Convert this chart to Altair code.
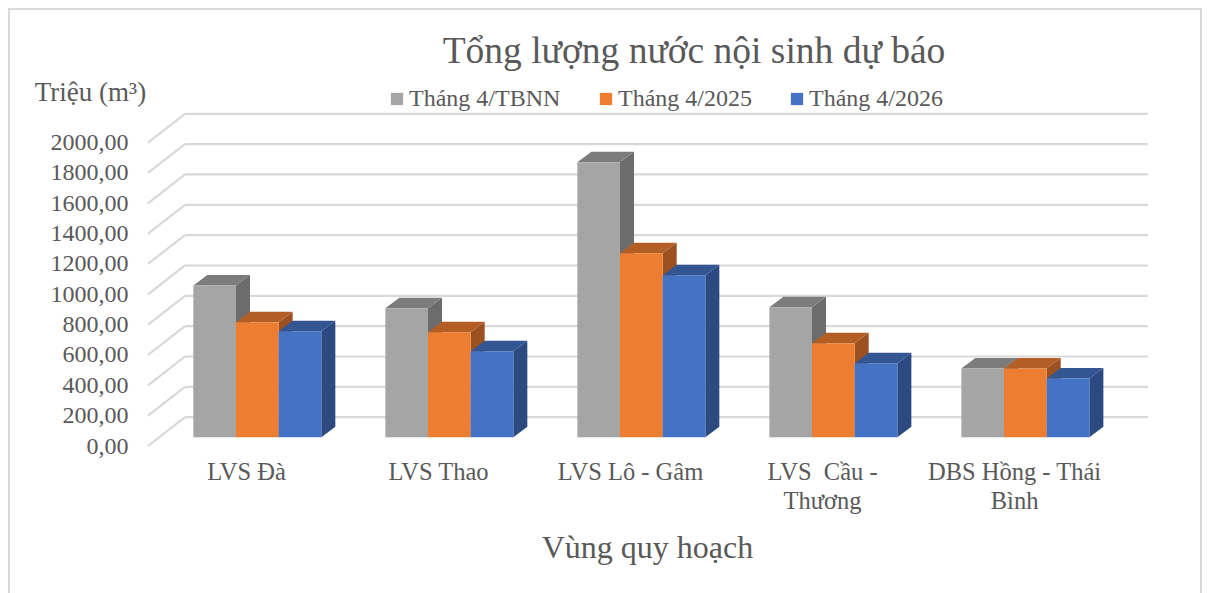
import altair as alt
import pandas as pd

regions = ["LVS Đà", "LVS Thao", "LVS Lô - Gâm", "LVS \u00a0Cầu -|Thương", "DBS Hồng - Thái|Bình"]
series = ["Tháng 4/TBNN", "Tháng 4/2025", "Tháng 4/2026"]
v_tbnn = [1000, 850, 1813, 857, 453]
v_2025 = [758, 692, 1213, 620, 453]
v_2026 = [699, 567, 1068, 488, 387]
values = [v_tbnn, v_2025, v_2026]
front = ["#A5A5A5", "#ED7D31", "#4472C4"]
top_c = ["#7C7C7C", "#B25E25", "#335693"]
side_c = ["#6C6C6C", "#9B5220", "#2C4A80"]
ticks = list(range(0, 2001, 200))

FONT = "Liberation Serif"
TXT = "#595959"
GRID = "#D9D9D9"
PITCH = 4.5      # group pitch in bar widths
DX, DY = 0.328, 69      # bar depth
BASE = 58        # bar floor above the front wall edge
WALL_X, WALL_Y = 0.867, 190
X0, X1 = -1.062, 22.374
xs = alt.Scale(domain=[X0, X1], nice=False, zero=False)
ys = alt.Scale(domain=[0, 2188.6], nice=False, zero=False)

x_axis = alt.Axis(
    values=[i * PITCH + 1.235 for i in range(5)],
    labelExpr="split(%r[round((datum.value-1.235)/4.5)],'|')" % (regions,),
    labelFont=FONT, labelFontSize=24.5, labelColor=TXT, labelPadding=14, labelLineHeight=29,
    domain=False, ticks=False, grid=False, labelAngle=0,
    title="Vùng quy hoạch", titleFont=FONT, titleFontSize=32, titleFontWeight="normal",
    titleColor=TXT, titleX=499, titleY=101, titleBaseline="middle", titleAlign="center")
y_axis = alt.Axis(
    values=ticks, labelExpr="replace(format(datum.value,'.2f'),'.',',')",
    labelFont=FONT, labelFontSize=24, labelColor=TXT, labelPadding=20,
    domain=False, ticks=False, grid=False,
    title="Triệu (m³)", titleFont=FONT, titleFontSize=27, titleFontWeight="normal",
    titleColor=TXT, titleAngle=0, titleX=-58, titleY=-22, titleBaseline="middle",
    titleAlign="center")

fx = alt.X("x:Q", scale=xs, axis=x_axis)
fy = alt.Y("y:Q", scale=ys, axis=y_axis)

# walls
wall = pd.DataFrame({"x": [X0 + WALL_X] * len(ticks), "x2": [X1] * len(ticks),
                     "y": [t + WALL_Y for t in ticks]})
back = alt.Chart(wall).mark_rule(color=GRID, strokeWidth=2.2).encode(x=fx, x2="x2:Q", y=fy)
diag_rows = []
for t in ticks:
    diag_rows.append({"t": t, "x": X0, "y": t})
    diag_rows.append({"t": t, "x": X0 + WALL_X, "y": t + WALL_Y})
diag = alt.Chart(pd.DataFrame(diag_rows)).mark_line(color=GRID, strokeWidth=2.2).encode(
    x=fx, y=fy, detail="t:N")

# chart-area frame, as near the page edge as the canvas reaches
frame_left = alt.Chart(pd.DataFrame({"a": [0]})).mark_rule(color=GRID, strokeWidth=2).encode(
    x=alt.value(-139), y=alt.value(-106), y2=alt.value(479))
frame_top = alt.Chart(pd.DataFrame({"a": [0]})).mark_rule(color=GRID, strokeWidth=2).encode(
    y=alt.value(-105), x=alt.value(-140), x2=alt.value(1054))
frame_right = alt.Chart(pd.DataFrame({"a": [0]})).mark_rule(color=GRID, strokeWidth=2).encode(
    x=alt.value(1053), y=alt.value(-106), y2=alt.value(479))

layers = [frame_left, frame_top, frame_right, back, diag]
for s, name in enumerate(series):
    rows_f, rows_s, rows_t = [], [], []
    for g, v in enumerate(values[s]):
        u = g * PITCH + s
        h = v + BASE
        rows_f.append({"series": name, "x": u, "x2": u + 1, "y": h, "y2": BASE})
        rows_s.append({"g": g, "x": u + 1, "y": h, "y2": BASE})
        rows_s.append({"g": g, "x": u + 1 + DX, "y": h + DY, "y2": BASE + DY})
        rows_t.append({"g": g, "y": h, "x": u, "x2": u + 1})
        rows_t.append({"g": g, "y": h + DY, "x": u + DX, "x2": u + 1 + DX})
    layers.append(alt.Chart(pd.DataFrame(rows_s)).mark_area(color=side_c[s], orient="vertical").encode(
        x=fx, y=fy, y2="y2:Q", detail="g:N"))
    layers.append(alt.Chart(pd.DataFrame(rows_t)).mark_area(color=top_c[s], orient="horizontal").encode(
        x=fx, x2="x2:Q", y=fy, detail="g:N"))
    layers.append(alt.Chart(pd.DataFrame(rows_f)).mark_rect().encode(
        x=fx, x2="x2:Q", y=fy, y2="y2:Q",
        color=alt.Color("series:N", scale=alt.Scale(domain=series, range=front), legend=alt.Legend(
            title=None, orient="none", legendX=237, legendY=-27, direction="horizontal", columns=3,
            symbolType="square", symbolSize=150, symbolStrokeWidth=0, symbolOpacity=1,
            labelFont=FONT, labelFontSize=24, labelColor=TXT, labelOffset=0, columnPadding=33)),
    ))

chart = alt.layer(*layers).properties(
    width=1000, height=332,
    padding={"left": 140, "top": 106, "right": 54, "bottom": 147},
    autosize=alt.AutoSizeParams(type="none"),
    background="white",
    title=alt.TitleParams("Tổng lượng nước nội sinh dự báo", font=FONT, fontSize=37.5,
                          fontWeight="normal", color=TXT, anchor="middle", dx=46, dy=79, offset=16),
).configure_view(stroke=None)

chart.save("out.html", embed_options={"renderer": "svg", "actions": False})
